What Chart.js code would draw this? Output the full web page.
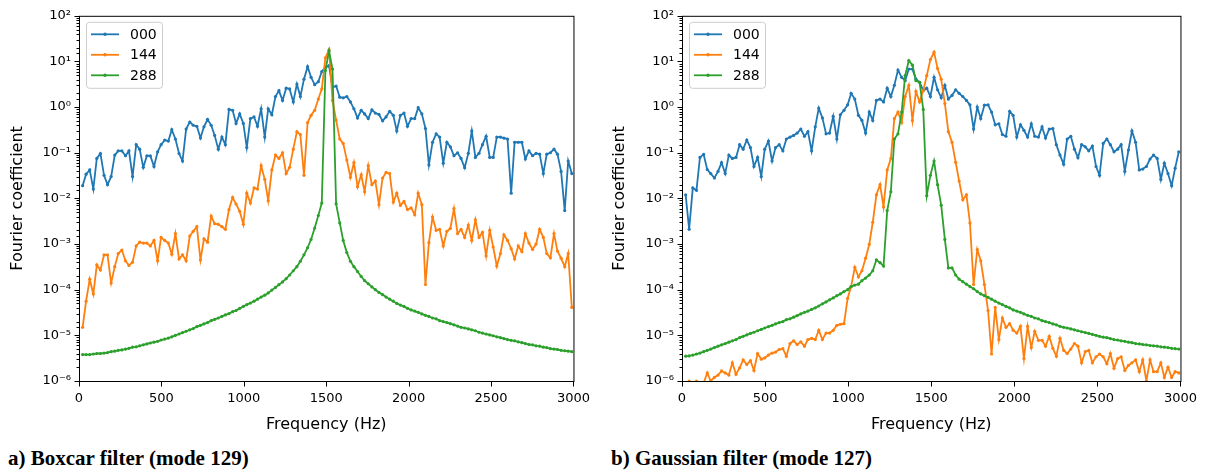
<!DOCTYPE html>
<html>
<head>
<meta charset="utf-8">
<script src="https://cdn.jsdelivr.net/npm/chart.js@4.4.0/dist/chart.umd.min.js"></script>
<style>
body { margin:0; background:#fff; }
#wrap { position:relative; width:1207px; height:473px; overflow:hidden; }
.panel { position:absolute; top:0; }
.cap { position:absolute; top:446px; font-family:"Liberation Serif","Times New Roman",serif; font-weight:bold; font-size:21px; line-height:24px; color:#000; white-space:nowrap; }
</style>
</head>
<body>
<div id="wrap">
  <div class="panel" style="left:0"><canvas id="boxcar" width="600" height="440"></canvas></div>
  <div class="panel" style="left:602px"><canvas id="gauss" width="605" height="440"></canvas></div>
  <div class="cap" style="left:8px">a) Boxcar filter (mode 129)</div>
  <div class="cap" style="left:611px">b) Gaussian filter (mode 127)</div>
</div>
<script>
const freqs = [22,43,65,87,108,130,152,173,195,217,238,260,282,303,325,347,368,390,412,433,455,477,498,520,542,563,585,607,628,650,
672,693,715,737,758,780,802,823,845,867,888,910,932,953,975,997,1018,1040,1062,1083,1105,1127,1148,1170,1192,1213,1235,1257,1278,1300,
1322,1343,1365,1387,1408,1430,1452,1473,1495,1517,1538,1560,1582,1603,1625,1647,1668,1690,1712,1733,1755,1777,1798,1820,1842,1863,1885,1907,1928,1950,
1972,1993,2015,2037,2058,2080,2102,2123,2145,2167,2188,2210,2232,2253,2275,2297,2318,2340,2362,2383,2405,2427,2448,2470,2492,2513,2535,2557,2578,2600,
2622,2643,2665,2687,2708,2730,2752,2773,2795,2817,2838,2860,2882,2903,2925,2947,2968,2990];

const seriesNames = ['000', '144', '288'];
const seriesColors = ['#1f77b4', '#ff7f0e', '#2ca02c'];

// a) boxcar filter
const boxcar000 = [0.019,0.034,0.042,0.016,0.075,0.096,0.032,0.020,0.030,0.089,
0.11,0.11,0.086,0.11,0.030,0.15,0.12,0.048,0.086,0.085,
0.050,0.105,0.15,0.19,0.18,0.32,0.20,0.096,0.066,0.33,
0.47,0.40,0.38,0.21,0.37,0.54,0.40,0.24,0.12,0.22,
0.15,0.89,0.85,0.44,0.71,0.44,0.13,0.56,0.61,0.38,
0.92,0.22,0.92,0.68,1.7,2.3,1.4,2.6,2.5,1.3,
3.2,1.7,4.1,7.7,4.5,3.1,3.6,6.0,7.4,8.1,
2.7,2.9,1.65,1.6,1.7,1.3,0.92,0.58,0.85,0.71,
0.56,0.87,0.74,0.69,0.50,0.61,0.81,0.66,0.30,0.66,
0.74,0.38,0.56,0.56,0.97,0.71,0.34,0.054,0.17,0.26,
0.22,0.059,0.17,0.135,0.086,0.10,0.075,0.047,0.097,0.30,
0.079,0.097,0.15,0.23,0.079,0.079,0.22,0.22,0.21,0.20,
0.013,0.17,0.17,0.17,0.073,0.11,0.086,0.097,0.093,0.035,
0.093,0.10,0.12,0.093,0.039,0.0054,0.066,0.035];

const boxcar144 = [1.5e-5,5.6e-5,1.7e-4,8.1e-5,3.5e-4,2.7e-4,5.8e-4,5.8e-4,1.4e-4,3.2e-4,
6.2e-4,7.4e-4,4.3e-4,3.4e-4,4.0e-4,9.1e-4,1.1e-3,1.05e-3,1.05e-3,9.1e-4,
1.2e-3,4.3e-4,1.4e-3,1.2e-3,1.05e-3,6.0e-4,1.7e-3,4.7e-4,5.8e-4,4.3e-4,
1.5e-3,1.9e-3,2.4e-3,4.5e-4,1.3e-3,1.1e-3,4.1e-3,2.8e-3,2.7e-3,2.4e-3,
2.1e-3,5.7e-3,1.05e-2,7.5e-3,5.2e-3,2.7e-3,1.3e-2,7.9e-3,1.7e-2,1.6e-2,
0.052,0.026,8.9e-3,0.042,0.089,0.075,0.10,0.035,0.048,0.12,
0.29,0.25,0.032,0.46,0.66,0.85,1.5,2.5,12,18,
1.4,0.52,0.20,0.16,0.069,0.029,0.061,0.018,0.033,0.014,
0.052,0.020,0.024,7.3e-3,0.028,0.037,0.035,8.3e-3,0.013,7.0e-3,
8.6e-3,5.7e-3,6.2e-3,4.4e-3,0.013,7.3e-3,1.3e-4,1.07e-3,3.9e-3,2.0e-3,
2.1e-3,9.1e-4,1.9e-3,2.2e-3,6.0e-3,1.7e-3,2.1e-3,1.4e-3,2.6e-3,1.2e-3,
3.4e-3,1.4e-3,1.8e-3,5.5e-4,2.0e-3,8.6e-4,3.3e-4,6.2e-4,1.6e-3,1.2e-3,
7.9e-4,4.7e-4,9.1e-4,6.8e-4,1.7e-3,1.05e-3,7.6e-4,1.0e-3,2.1e-3,1.4e-3,
6.2e-4,5.0e-4,1.7e-3,7.0e-4,4.9e-4,3.2e-4,6.2e-4,4.1e-5];

const boxcar288 = [3.8e-6,3.8e-6,3.8e-6,3.9e-6,4.0e-6,4.0e-6,4.1e-6,4.2e-6,4.4e-6,4.5e-6,
4.7e-6,4.8e-6,5.0e-6,5.2e-6,5.5e-6,5.6e-6,5.9e-6,6.2e-6,6.5e-6,6.8e-6,
7.1e-6,7.4e-6,7.9e-6,8.3e-6,8.7e-6,9.3e-6,1.0e-5,1.07e-5,1.15e-5,1.23e-5,
1.32e-5,1.41e-5,1.55e-5,1.66e-5,1.78e-5,1.9e-5,2.1e-5,2.24e-5,2.4e-5,2.6e-5,
2.8e-5,3.0e-5,3.3e-5,3.5e-5,3.9e-5,4.3e-5,4.7e-5,5.1e-5,5.6e-5,6.2e-5,
6.9e-5,7.6e-5,8.5e-5,9.8e-5,1.12e-4,1.29e-4,1.48e-4,1.74e-4,2.1e-4,2.6e-4,
3.2e-4,4.2e-4,5.8e-4,8.3e-4,1.26e-3,2.24e-3,4.2e-3,7.9e-3,6.3,17,
6.8,7.6e-3,2.9e-3,1.2e-3,6.5e-4,4.2e-4,3.2e-4,2.5e-4,1.95e-4,1.58e-4,
1.35e-4,1.15e-4,1.0e-4,8.7e-5,7.8e-5,6.9e-5,6.2e-5,5.6e-5,5.0e-5,4.6e-5,
4.3e-5,3.9e-5,3.6e-5,3.4e-5,3.2e-5,2.95e-5,2.75e-5,2.6e-5,2.4e-5,2.3e-5,
2.1e-5,2.0e-5,1.9e-5,1.8e-5,1.7e-5,1.6e-5,1.5e-5,1.45e-5,1.38e-5,1.32e-5,
1.26e-5,1.17e-5,1.12e-5,1.07e-5,1.02e-5,9.8e-6,9.3e-6,8.9e-6,8.5e-6,8.1e-6,
7.8e-6,7.6e-6,7.2e-6,6.9e-6,6.6e-6,6.3e-6,6.2e-6,5.9e-6,5.8e-6,5.5e-6,
5.4e-6,5.1e-6,5.0e-6,4.9e-6,4.7e-6,4.6e-6,4.5e-6,4.4e-6];

// b) gaussian filter
const gauss000 = [0.012,2.1e-3,0.017,0.015,0.079,0.092,0.043,0.035,0.028,0.039,
0.061,0.035,0.089,0.075,0.079,0.15,0.12,0.19,0.13,0.050,
0.079,0.030,0.12,0.18,0.066,0.13,0.15,0.11,0.20,0.22,
0.24,0.27,0.33,0.23,0.29,0.11,0.37,0.95,0.58,0.26,
0.27,0.63,0.20,0.68,0.85,1.12,2.0,1.5,0.66,0.51,
0.27,0.78,0.51,1.4,1.5,1.3,2.6,1.7,3.0,6.5,
4.5,3.8,6.8,6.8,4.1,3.5,2.3,2.6,1.7,4.5,
2.4,1.6,3.0,1.5,1.8,2.4,2.0,1.7,1.4,1.12,
0.33,1.0,0.56,1.1,1.12,0.78,0.41,0.43,0.25,0.23,
0.81,0.66,0.22,0.41,0.31,0.22,0.43,0.23,0.22,0.37,
0.21,0.33,0.34,0.15,0.089,0.056,0.20,0.23,0.12,0.078,
0.15,0.135,0.11,0.14,0.05,0.032,0.16,0.20,0.15,0.105,
0.12,0.15,0.039,0.115,0.30,0.17,0.042,0.044,0.050,0.073,
0.089,0.075,0.026,0.059,0.035,0.019,0.046,0.105];

const gauss144 = [8e-7,1.0e-6,8.5e-7,1.0e-6,8e-7,9e-7,1.5e-6,1.0e-6,1.2e-6,1.35e-6,
1.66e-6,1.5e-6,1.35e-6,2.5e-6,1.4e-6,1.95e-6,2.9e-6,2.3e-6,2.8e-6,1.7e-6,
4.0e-6,3.0e-6,3.2e-6,3.7e-6,4.1e-6,4.3e-6,4.9e-6,5.1e-6,3.5e-6,6.6e-6,
7.6e-6,6.3e-6,7.2e-6,5.8e-6,8.1e-6,8.6e-6,8.1e-6,1.29e-5,8.1e-6,1.12e-5,
1.12e-5,1.29e-5,1.66e-5,1.75e-5,1.8e-5,6.5e-5,1.17e-4,3.1e-4,1.9e-4,2.6e-4,
4.9e-4,9.8e-4,3.0e-3,0.012,0.020,6.5e-3,0.042,0.075,0.56,0.78,
0.46,1.7,3.0,0.51,2.2,1.3,2.3,4.9,11,16,
7.0,4.1,1.2,0.29,0.17,0.062,0.024,9.3e-3,0.012,2.9e-3,
1.3e-4,7.6e-4,4.3e-4,1.3e-4,3.5e-5,3.9e-6,4.1e-5,8.1e-6,2.4e-5,1.5e-5,
1.8e-5,1.3e-5,1.12e-5,1.58e-5,3.1e-6,1.58e-5,5.4e-6,1.23e-5,7.8e-6,7.8e-6,
5.8e-6,9.5e-6,5.2e-6,3.5e-6,8.6e-6,4.7e-6,4.0e-6,5.0e-6,6.6e-6,5.8e-6,
2.5e-6,4.4e-6,4.7e-6,2.5e-6,3.4e-6,3.9e-6,3.4e-6,2.4e-6,4.0e-6,1.9e-6,
3.1e-6,3.4e-6,1.7e-6,2.2e-6,2.5e-6,2.9e-6,1.6e-6,2.9e-6,1.0e-6,2.9e-6,
1.6e-6,1.6e-6,2.5e-6,1.2e-6,2.0e-6,1.2e-6,1.6e-6,1.5e-6];

const gauss288 = [3.5e-6,3.55e-6,3.7e-6,3.9e-6,4.1e-6,4.4e-6,4.7e-6,5.0e-6,5.4e-6,5.8e-6,
6.2e-6,6.6e-6,7.1e-6,7.6e-6,8.1e-6,8.9e-6,9.5e-6,1.02e-5,1.1e-5,1.17e-5,
1.26e-5,1.35e-5,1.45e-5,1.55e-5,1.66e-5,1.78e-5,1.9e-5,2.0e-5,2.2e-5,2.3e-5,
2.5e-5,2.7e-5,2.95e-5,3.2e-5,3.4e-5,3.7e-5,4.0e-5,4.4e-5,4.9e-5,5.4e-5,
6.0e-5,6.6e-5,7.4e-5,8.1e-5,9.1e-5,1.0e-4,1.17e-4,1.26e-4,1.32e-4,1.58e-4,
1.8e-4,2.1e-4,2.6e-4,4.5e-4,3.9e-4,3.3e-4,5.4e-3,0.014,0.20,0.26,
0.78,4.9,10.5,8.3,3.8,3.5,0.89,0.0115,0.032,0.066,
0.020,7.1e-3,1.26e-3,3.0e-4,3.0e-4,2.1e-4,1.7e-4,1.5e-4,1.32e-4,1.17e-4,
1.05e-4,9.1e-5,8.1e-5,7.4e-5,6.8e-5,6.2e-5,5.6e-5,5.1e-5,4.7e-5,4.3e-5,
4.0e-5,3.6e-5,3.4e-5,3.2e-5,2.95e-5,2.75e-5,2.6e-5,2.4e-5,2.3e-5,2.1e-5,
2.0e-5,1.9e-5,1.78e-5,1.7e-5,1.58e-5,1.5e-5,1.45e-5,1.38e-5,1.32e-5,1.26e-5,
1.2e-5,1.15e-5,1.1e-5,1.05e-5,1.0e-5,9.5e-6,9.1e-6,8.9e-6,8.5e-6,8.1e-6,
7.9e-6,7.6e-6,7.4e-6,7.1e-6,6.9e-6,6.6e-6,6.5e-6,6.3e-6,6.2e-6,6.0e-6,
5.9e-6,5.8e-6,5.6e-6,5.5e-6,5.4e-6,5.2e-6,5.1e-6,5.0e-6];

Chart.defaults.font.family = '"DejaVu Sans", sans-serif';
Chart.defaults.color = '#000';

const sup = {'-':'\u207b','0':'\u2070','1':'\u00b9','2':'\u00b2','3':'\u00b3','4':'\u2074','5':'\u2075','6':'\u2076','7':'\u2077','8':'\u2078','9':'\u2079'};

function isDecade(v) {
  const e = Math.log10(v);
  return Math.abs(e - Math.round(e)) < 1e-6;
}

function powLabel(v) {
  const e = String(Math.round(Math.log10(v)));
  return '10' + e.split('').map(c => sup[c]).join('');
}

// box around the plot + tick marks (minor ones shorter, like matplotlib)
const frameTicks = {
  id: 'frameTicks',
  afterDraw(chart) {
    const ctx = chart.ctx;
    const a = chart.chartArea;
    const sx = chart.scales.x, sy = chart.scales.y;
    ctx.save();
    ctx.strokeStyle = '#000';
    ctx.lineWidth = 1;
    ctx.strokeRect(a.left + 0.5, a.top + 0.5, a.right - a.left, a.bottom - a.top);
    ctx.beginPath();
    sx.ticks.forEach(t => {
      const px = Math.round(sx.getPixelForValue(t.value)) + 0.5;
      ctx.moveTo(px, a.bottom + 0.5);
      ctx.lineTo(px, a.bottom + 5.5);
    });
    sy.ticks.forEach(t => {
      const py = Math.round(sy.getPixelForValue(t.value)) + 0.5;
      const len = isDecade(t.value) ? 5 : 3;
      ctx.moveTo(a.left + 0.5, py);
      ctx.lineTo(a.left + 0.5 - len, py);
    });
    ctx.stroke();
    ctx.restore();
  }
};

// legend drawn inside the plot, upper left
const innerLegend = {
  id: 'innerLegend',
  afterDatasetsDraw(chart) {
    const ctx = chart.ctx;
    const a = chart.chartArea;
    const x0 = a.left + 7, y0 = a.top + 6;
    ctx.save();
    ctx.beginPath();
    ctx.roundRect(x0 + 0.5, y0 + 0.5, 76, 66, 3);
    ctx.fillStyle = 'rgba(255,255,255,0.8)';
    ctx.fill();
    ctx.strokeStyle = '#cccccc';
    ctx.lineWidth = 1;
    ctx.stroke();
    chart.data.datasets.forEach((ds, i) => {
      const yy = y0 + 12.5 + i * 20.5;
      ctx.strokeStyle = ds.borderColor;
      ctx.lineWidth = 1.8;
      ctx.beginPath();
      ctx.moveTo(x0 + 5, yy);
      ctx.lineTo(x0 + 33, yy);
      ctx.stroke();
      ctx.fillStyle = ds.borderColor;
      ctx.beginPath();
      ctx.arc(x0 + 19, yy, 1.7, 0, Math.PI * 2);
      ctx.fill();
      ctx.fillStyle = '#000';
      ctx.font = '14px "DejaVu Sans"';
      ctx.textBaseline = 'middle';
      ctx.fillText(ds.label, x0 + 44, yy + 1);
    });
    ctx.restore();
  }
};

function makeChart(id, series, axisWidth, padRight) {
  return new Chart(document.getElementById(id), {
    type: 'line',
    data: {
      datasets: series.map((vals, i) => ({
        label: seriesNames[i],
        data: freqs.map((f, k) => ({x: f, y: vals[k]})),
        borderColor: seriesColors[i],
        backgroundColor: seriesColors[i],
        borderWidth: 1.8,
        pointRadius: 1.6,
        pointBorderWidth: 0,
        pointHoverRadius: 0,
        order: 3 - i
      }))
    },
    options: {
      responsive: false,
      animation: false,
      devicePixelRatio: 1,
      events: [],
      layout: {padding: {top: 12, right: padRight, left: 0, bottom: 0}},
      plugins: {legend: {display: false}, tooltip: {enabled: false}},
      scales: {
        x: {
          type: 'linear', min: 0, max: 3000,
          grid: {display: false, drawTicks: false},
          border: {display: false},
          ticks: {stepSize: 500, padding: 10, font: {size: 13}, maxRotation: 0, autoSkip: false, callback: v => String(v)},
          title: {display: true, text: 'Frequency (Hz)', font: {size: 16}, padding: {top: 0, bottom: 6}},
          afterFit(s) { s.height = 59; }
        },
        y: {
          type: 'logarithmic', min: 1e-6, max: 1e2,
          grid: {display: false, drawTicks: false},
          border: {display: false},
          ticks: {autoSkip: false, padding: 8, font: {size: 13}, callback: v => isDecade(v) ? powLabel(v) : ''},
          title: {display: true, text: 'Fourier coefficient', font: {size: 16}, padding: {top: 8, bottom: 0}},
          afterFit(s) { s.width = axisWidth; }
        }
      }
    },
    plugins: [frameTicks, innerLegend]
  });
}

makeChart('boxcar', [boxcar000, boxcar144, boxcar288], 79, 23);
makeChart('gauss', [gauss000, gauss144, gauss288], 80, 26);
</script>
</body>
</html>
